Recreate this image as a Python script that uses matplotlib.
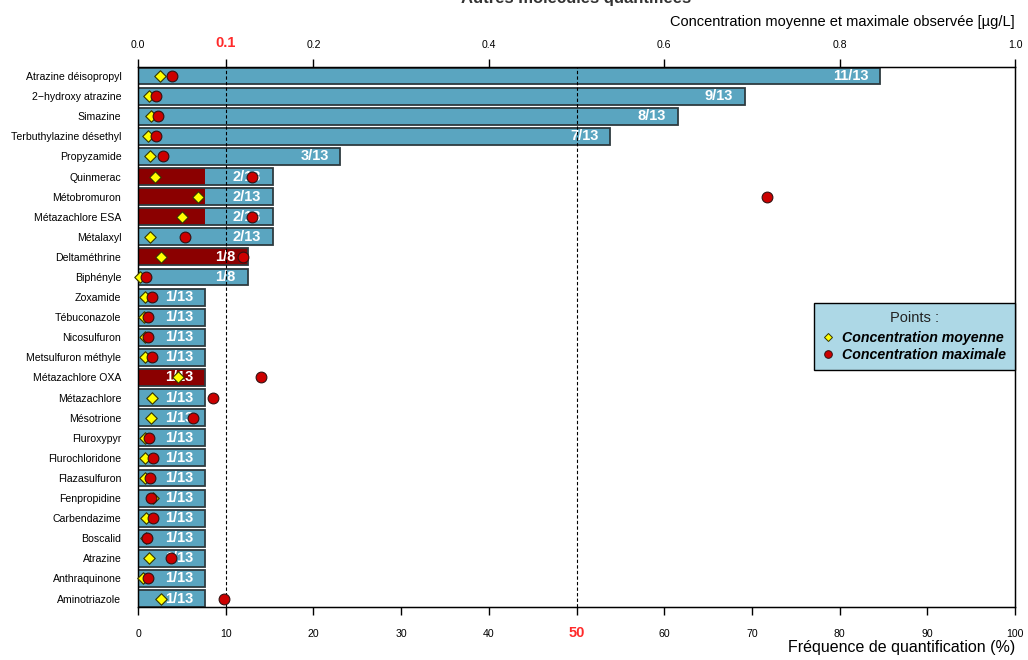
import numpy as np
import matplotlib
matplotlib.use("Agg")
import matplotlib.pyplot as plt
from matplotlib.lines import Line2D

plt.rcParams['font.family'] = ['Liberation Sans', 'DejaVu Sans']

# Molecules, from top to bottom
molecules = [
    "Atrazine déisopropyl", "2\u2212hydroxy atrazine", "Simazine",
    "Terbuthylazine désethyl", "Propyzamide", "Quinmerac", "Métobromuron",
    "Métazachlore ESA", "Métalaxyl", "Deltaméthrine", "Biphényle", "Zoxamide",
    "Tébuconazole", "Nicosulfuron", "Metsulfuron méthyle", "Métazachlore OXA",
    "Métazachlore", "Mésotrione", "Fluroxypyr", "Flurochloridone",
    "Flazasulfuron", "Fenpropidine", "Carbendazime", "Boscalid", "Atrazine",
    "Anthraquinone", "Aminotriazole",
]
# number of quantified samples / number of analyses
n_quantif = [11, 9, 8, 7, 3, 2, 2, 2, 2, 1, 1, 1, 1, 1, 1, 1, 1, 1, 1, 1, 1, 1, 1, 1, 1, 1, 1]
n_total = [13, 13, 13, 13, 13, 13, 13, 13, 13, 8, 8, 13, 13, 13, 13, 13, 13, 13, 13, 13,
           13, 13, 13, 13, 13, 13, 13]
# samples above 0.1 ug/L
n_depass = [0, 0, 0, 0, 0, 1, 1, 1, 0, 1, 0, 0, 0, 0, 0, 1, 0, 0, 0, 0, 0, 0, 0, 0, 0, 0, 0]
# mean and max concentrations (ug/L)
conc_moy = [0.025, 0.012, 0.015, 0.011, 0.014, 0.019, 0.068, 0.050, 0.014, 0.026, 0.002,
            0.008, 0.007, 0.008, 0.008, 0.046, 0.016, 0.015, 0.008, 0.008, 0.008, 0.017,
            0.009, 0.009, 0.0125, 0.006, 0.026]
conc_max = [0.039, 0.021, 0.023, 0.020, 0.029, 0.130, 0.717, 0.130, 0.054, 0.120, 0.009,
            0.016, 0.011, 0.011, 0.016, 0.140, 0.085, 0.063, 0.013, 0.017, 0.014, 0.015,
            0.017, 0.010, 0.038, 0.011, 0.098]

freq = 100 * np.array(n_quantif) / np.array(n_total)
freq_dep = 100 * np.array(n_depass) / np.array(n_total)
pos = np.arange(len(molecules))

BLEU = '#5aa5c0'
ROUGE_FONCE = '#8b0000'
BORD = '#2e3b40'
ROUGE_SEUIL = '#ff2a2a'

fig = plt.figure(figsize=(10.28, 6.6), dpi=100)
ax = fig.add_axes([138 / 1028, 1 - 607 / 660, 877 / 1028, 540 / 660])

h = 0.84
ax.barh(pos, freq, height=h, color=BLEU, edgecolor='none', zorder=2)
ax.barh(pos, freq_dep, height=h, color=ROUGE_FONCE, edgecolor='none', zorder=3)
ax.barh(pos, freq, height=h, fill=False, edgecolor=BORD, linewidth=1.3, zorder=4)

for y, f, q, t in zip(pos, freq, n_quantif, n_total):
    ax.annotate(f"{q}/{t}", (f, y), xytext=(-8.5, 0), textcoords='offset points',
                ha='right', va='center', color='white', fontweight='bold',
                fontsize=10.5, zorder=5)

# seuils
for xv in (10, 50):
    ax.axvline(xv, color='black', linestyle=(0, (3, 2)), linewidth=0.8, zorder=6)

ax.set_xlim(0, 100)
ax.set_ylim(26.42, -0.45)
ax.set_yticks(pos)
ax.set_yticklabels(molecules, fontsize=7.6)
ax.tick_params(axis='y', length=0, pad=12)
ax.set_xticks(np.arange(0, 101, 10))
ax.tick_params(axis='x', direction='out', length=6, width=1, labelsize=7.6, pad=10)
for lab, tk in zip(ax.get_xticklabels(), ax.xaxis.get_major_ticks()):
    if lab.get_text() == '50':
        lab.set_color(ROUGE_SEUIL)
        lab.set_fontweight('bold')
        lab.set_fontsize(10.5)
        tk.tick1line.set_color(ROUGE_SEUIL)
        tk.set_pad(8)
for sp in ax.spines.values():
    sp.set_linewidth(1)
    sp.set_zorder(7)
ax.set_xlabel("Fréquence de quantification (%)", fontsize=11.5, loc='right', labelpad=0)

# axe des concentrations
ax2 = ax.twiny()
ax2.set_xlim(0, 1)
ax2.set_xticks([0.0, 0.1, 0.2, 0.4, 0.6, 0.8, 1.0])
ax2.set_xticklabels(["0.0", "0.1", "0.2", "0.4", "0.6", "0.8", "1.0"])
ax2.tick_params(axis='x', direction='out', length=6, width=1, labelsize=7.6, pad=6.5)
for lab, tk in zip(ax2.get_xticklabels(), ax2.xaxis.get_major_ticks()):
    if lab.get_text() == '0.1':
        lab.set_color(ROUGE_SEUIL)
        lab.set_fontweight('bold')
        lab.set_fontsize(10.5)
        tk.tick2line.set_color(ROUGE_SEUIL)
ax2.set_xlabel("Concentration moyenne et maximale observée [µg/L]", fontsize=10.5,
               loc='right', labelpad=7)

ax2.scatter(conc_moy, pos, marker='D', s=34, color='#ffff00', edgecolor='#333300',
            linewidth=0.8, zorder=8, clip_on=False)
ax2.scatter(conc_max, pos, marker='o', s=60, color='#cc0000', edgecolor='#331111',
            linewidth=0.8, zorder=9, clip_on=False)

handles = [
    Line2D([], [], marker='D', linestyle='none', markersize=4.5, markerfacecolor='#ffff00',
           markeredgecolor='#333300', markeredgewidth=0.7),
    Line2D([], [], marker='o', linestyle='none', markersize=5.5, markerfacecolor='#cc0000',
           markeredgecolor='#331111', markeredgewidth=0.7),
]
leg = ax2.legend(handles, ["Concentration moyenne", "Concentration maximale"],
                 title="Points :", loc='upper right', bbox_to_anchor=(1.0, 1 - (303 - 67) / 540),
                 borderaxespad=0, fancybox=False, framealpha=1, facecolor='#add8e6',
                 edgecolor='black', handletextpad=0.7, handlelength=0.7,
                 prop={'size': 10.2, 'weight': 'bold', 'style': 'italic'},
                 title_fontsize=10.5, borderpad=0.6, labelspacing=0.2)
leg.get_frame().set_linewidth(1)
leg.get_title().set_color('#222222')
leg._legend_box.sep = 4
leg.set_zorder(10)

fig.text(0.56, 1 - 3 / 660, "Autres molécules quantifiées", ha='center', va='baseline',
         fontsize=12, fontweight='bold', color='#333333')

fig.savefig("out.png", dpi=100)
